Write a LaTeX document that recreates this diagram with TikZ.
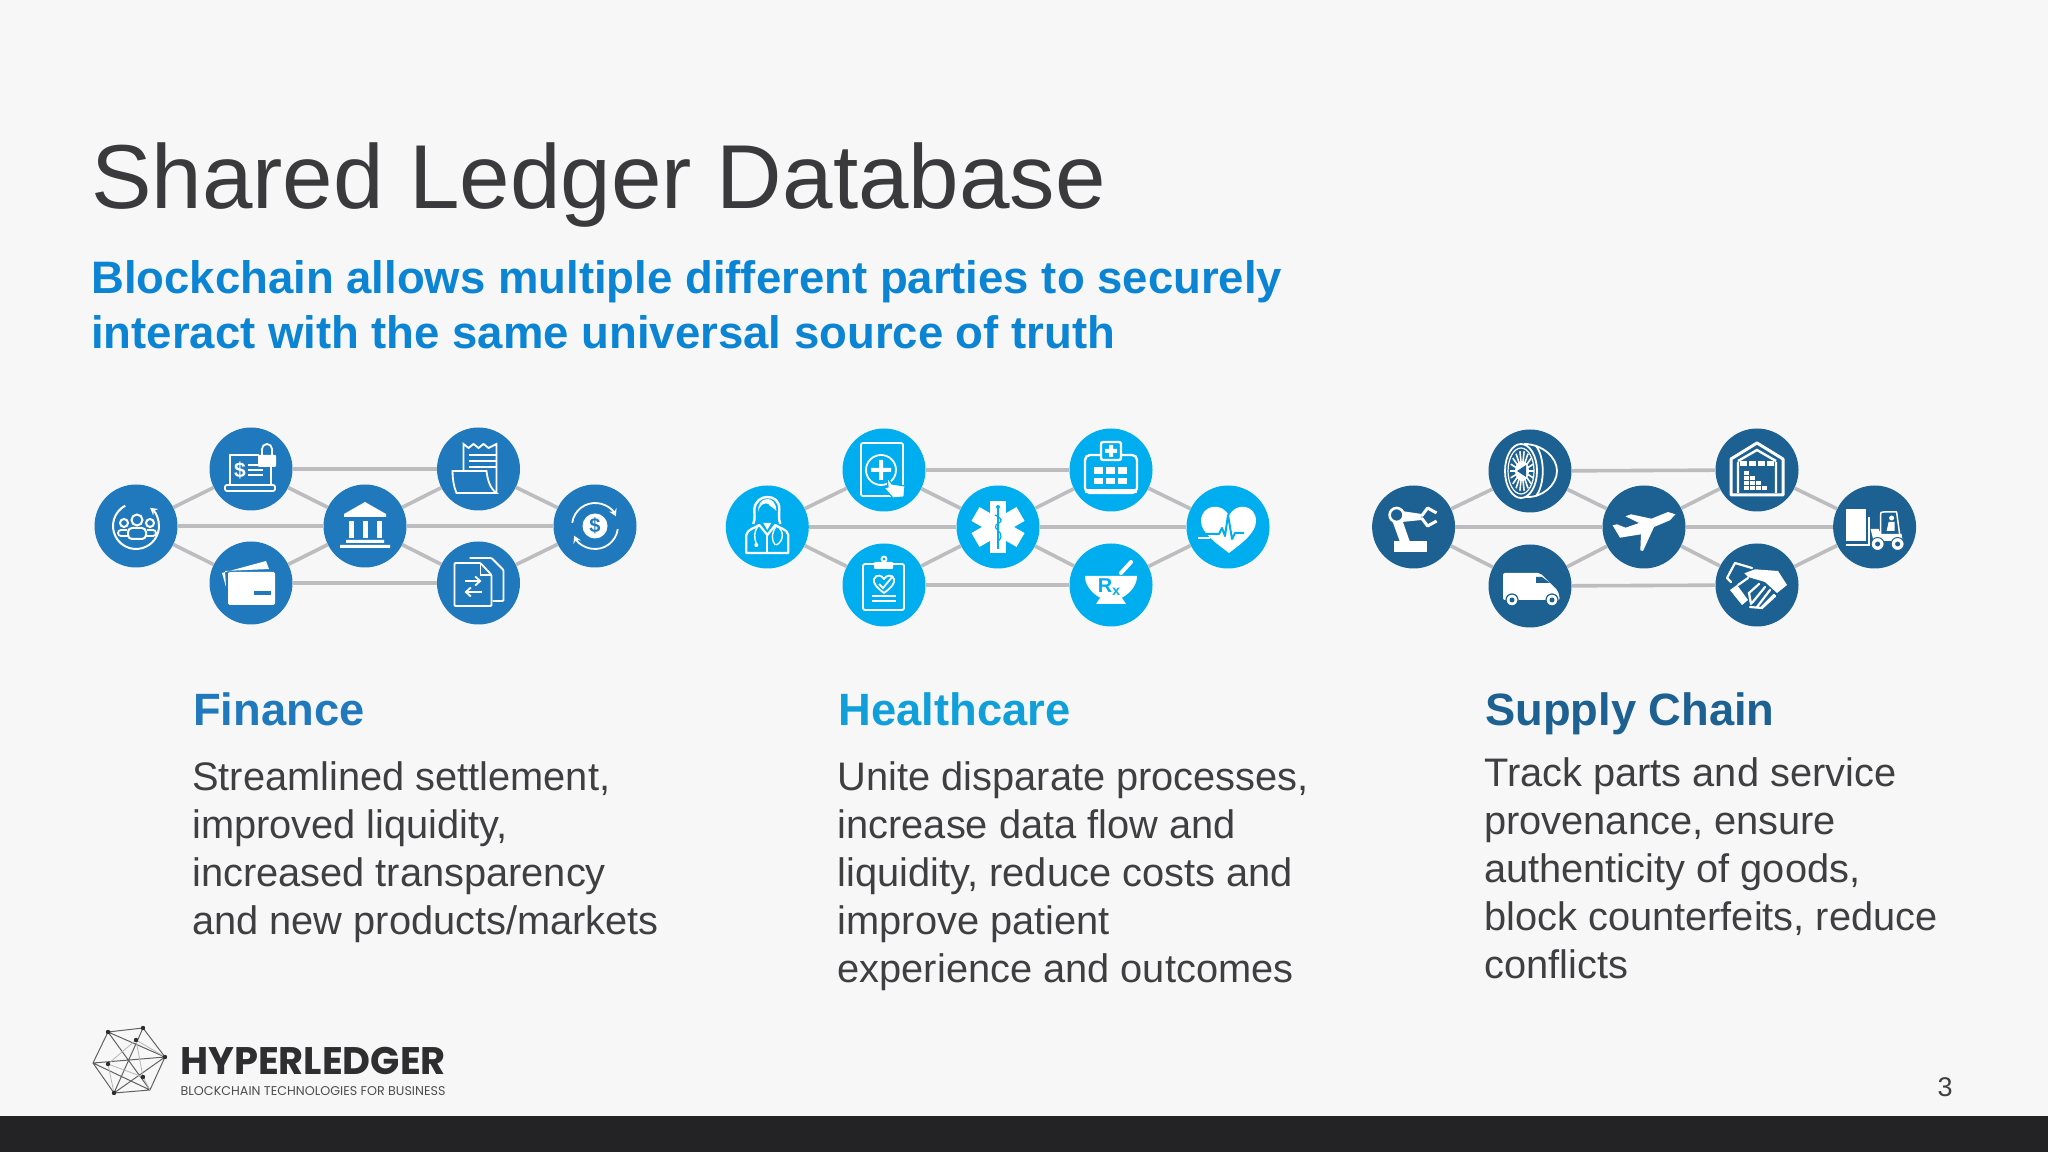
\documentclass[tikz,border=0pt]{standalone}
\usepackage{fontspec}
\setmainfont{Liberation Sans}
\newfontfamily\logofont{Poppins}
\usetikzlibrary{arrows.meta}
\definecolor{pagebg}{HTML}{F7F7F8}
\definecolor{barcol}{HTML}{232326}
\definecolor{titlecol}{HTML}{3A3A3C}
\definecolor{bodycol}{HTML}{3F3F42}
\definecolor{subcol}{HTML}{0B84D4}
\definecolor{fincol}{HTML}{2179BD}
\definecolor{healcol}{HTML}{00AEEF}
\definecolor{healhead}{HTML}{109FD9}
\definecolor{supcol}{HTML}{1C6191}
\definecolor{linkcol}{HTML}{BDBCBE}
\definecolor{logocol}{HTML}{2E2E30}
\newcommand{\fsz}[1]{\fontsize{#1}{#1}\selectfont}
\newcommand{\fszl}[2]{\fontsize{#1}{#2}\selectfont}
\tikzset{
  x=1pt,y=1pt,
  hub/.style={circle,inner sep=0pt,minimum size=83pt,fill=#1},
  link/.style={draw=linkcol,line width=3.6pt},
  wline/.style={draw=white,line width=1.8pt},
  hline/.style={draw=hubcol,line width=1.5pt},
  head/.style={anchor=base west,inner sep=0pt,font=\bfseries\fsz{45.3}},
  body/.style={anchor=north west,inner sep=0pt,align=left,text=bodycol,font=\fszl{39.8}{48}},
  peopleicon/.pic={
    \draw[wline,line width=2pt,-{Stealth[length=7pt,width=8pt]}] (118:23) arc (118:412:23);
    \draw[wline,line width=2pt] (1,6) circle (5.5) (14,3) circle (4) (-12,3) circle (4);
    \draw[wline,line width=2pt,rounded corners=4pt] (-8,-13) -- (-8,-2) -- (10,-2) -- (10,-13) -- cycle;
    \draw[wline,rounded corners=3pt] (-8,-10) -- (-18,-10) -- (-18,-4) -- (-9,-4) (10,-10) -- (20,-10) -- (20,-4) -- (11,-4);
  },
  laptopicon/.pic={
    \draw[wline] (8,14) -- (-21,14) -- (-21,-16) (20,3) -- (20,-16);
    \draw[wline,rounded corners=2pt] (-26,-16) rectangle (24,-22);
    \draw[wline] (-3,4) -- (12,4) (-3,-1) -- (12,-1) (-3,-6) -- (12,-6);
    \node[text=white,font=\bfseries\fsz{21}] (laptopmark) at (-11,-1) {\$};
    \fill[white,rounded corners=1pt] (7,14) rectangle (25,2);
    \draw[wline] (11,14) -- (11,20) arc (180:0:5) -- (21,14);
  },
  bankicon/.pic={
    \fill[white] (-21,12) -- (0,24) -- (21,12) -- (21,9) -- (-21,9) -- cycle;
    \foreach \colx in {-14,0,14} \fill[white] (\colx-2.5,5) rectangle (\colx+2.5,-12);
    \fill[white] (-19,-14) rectangle (19,-17) (-25,-19) rectangle (25,-22);
  },
  receipticon/.pic={
    \draw[wline] (-15,-2) -- (-15,25) -- (-10,21) -- (-5,25) -- (0,21) -- (5,25) -- (10,21) -- (18,25) -- (18,-23);
    \draw[wline] (-10,14) -- (17,14) (-10,8) -- (17,8) (-10,2) -- (17,2);
    \draw[wline,fill=hubcol] (-26,-2) -- (8,-2) .. controls (9,-10) and (11,-19) .. (18,-24) -- (-22,-24) .. controls (-25,-17) and (-26,-9) .. (-26,-2) -- cycle;
  },
  cycleicon/.pic={
    \draw[wline,-{Stealth[length=7pt,width=8pt]}] (172:23) arc (172:25:23);
    \draw[wline,-{Stealth[length=7pt,width=8pt]}] (352:23) arc (352:205:23);
    \fill[white] (0,0) circle (12.5);
    \node[text=hubcol,font=\bfseries\fsz{20}] (cyclemark) at (0,0) {\$};
  },
  cardicon/.pic={
    \fill[white] (-29,10) -- (15,22) -- (18,14) -- (-26,12) -- (-25,-4) -- cycle;
    \fill[white,rounded corners=1.5pt] (-23,11) rectangle (24,-22);
    \fill[hubcol] (3,-8) rectangle (20,-12);
  },
  docsicon/.pic={
    \draw[wline,rounded corners=1pt] (-9,25) -- (13,25) -- (25,13) -- (25,-18) -- (14,-18);
    \draw[wline,fill=hubcol,rounded corners=1pt] (-24,20) -- (2,20) -- (13,8) -- (13,-23) -- (-24,-23) -- cycle;
    \draw[wline] (2,20) -- (2,8) -- (13,8);
    \draw[wline,-{Straight Barb[length=5pt,width=9pt]}] (-14,2) -- (3,2);
    \draw[wline,-{Straight Barb[length=5pt,width=9pt]}] (3,-9) -- (-14,-9);
  },
  doctoricon/.pic={
    \draw[wline,line width=2.4pt,fill=hubcol] (-14,3) .. controls (-12,8) and (-13,14) .. (-13,18) .. controls (-12,26) and (-6,30) .. (0,30) .. controls (7,30) and (12,26) .. (12,18) .. controls (12,14) and (11,8) .. (13,3);
    \fill[white] (-9,15) .. controls (-8,22) and (-3,25) .. (1,23) .. controls (3,20) and (7,19) .. (9,16) .. controls (9,24) and (5,28) .. (0,28) .. controls (-6,28) and (-10,22) .. (-9,15) -- cycle;
    \draw[wline,line width=2.2pt,fill=hubcol,line join=round] (-21,-26) -- (-21,-8) .. controls (-20,-2) and (-12,-1) .. (-8,2) -- (0,-8) -- (8,2) .. controls (12,-1) and (20,-2) .. (21,-8) -- (21,-26) -- cycle;
    \draw[wline,line width=2pt] (0,-8) -- (0,-26);
    \fill[white] (-4,4) -- (4,4) -- (0,-3) -- cycle;
    \draw[wline,line width=1.4pt] (-9,1) .. controls (-14,-5) and (-13,-11) .. (-11,-17) (9,1) .. controls (18,-3) and (16,-15) .. (9,-18) (9,1) .. controls (4,-6) and (4,-14) .. (8,-18);
    \fill[white] (-11,-18) circle (2);
  },
  tableticon/.pic={
    \draw[wline,rounded corners=2pt] (-23,27) rectangle (19,-26);
    \draw[wline] (-3,0) circle (15);
    \fill[white] (-5,10) rectangle (-1,-10) (-13,2) rectangle (7,-2);
    \fill[white,draw=hubcol,line width=1.2pt] (3,-7) -- (8,-14) -- (21,-16) -- (20,-27) -- (9,-28) -- (0,-18) -- (4,-17) -- cycle;
  },
  staricon/.pic={
    \foreach \ang in {0,60,120} \fill[white,rotate=\ang] (-8,-26) rectangle (8,26);
    \draw[hline,line width=1.2pt] (0,20) -- (0,-22);
    \draw[hline,line width=1.2pt] (-3,12) .. controls (5,8) and (5,6) .. (-2,2) .. controls (-5,-2) and (4,-4) .. (3,-10) .. controls (2,-14) and (-2,-14) .. (0,-18);
    \fill[hubcol] (0,20) circle (2);
  },
  hospitalicon/.pic={
    \draw[wline,line width=2.4pt,rounded corners=5pt] (-10,15) -- (-26,15) -- (-26,-23) -- (26,-23) -- (26,15) -- (10,15);
    \draw[wline,line width=2.4pt,fill=hubcol,rounded corners=2pt] (-10,28) rectangle (10,10);
    \fill[white] (-2,25) rectangle (2,13) (-6,21) rectangle (6,17);
    \foreach \winx in {-17,-5,7} {
      \fill[white] (\winx,3) rectangle (\winx+9,-4);
      \fill[white] (\winx,-8) rectangle (\winx+9,-14);
    }
    \fill[white] (-26,-19) rectangle (26,-23);
  },
  hearticon/.pic={
    \fill[white] (1,-26) .. controls (-12,-16) and (-27,-6) .. (-27,6) .. controls (-27,22) and (-6,26) .. (1,11) .. controls (8,26) and (28,22) .. (28,6) .. controls (28,-6) and (14,-16) .. (1,-26) -- cycle;
    \draw[wline,line width=2.4pt] (-30,-11) -- (-18,-11);
    \draw[hline,line width=2pt,line join=round] (-27,-7) -- (-9,-7) -- (-6,-1) -- (-3,-9) -- (0,12) -- (4,-12) -- (7,-6) -- (16,-6);
  },
  clipboardicon/.pic={
    \draw[wline,rounded corners=2pt] (-21,21) rectangle (20,-25);
    \fill[white,rounded corners=1pt] (-10,23) rectangle (9,16);
    \draw[wline] (0,26) circle (2.5);
    \draw[wline] (0,-8) .. controls (-8,-2) and (-11,2) .. (-10,6) .. controls (-8,11) and (-2,10) .. (0,6) .. controls (2,10) and (8,11) .. (10,6) .. controls (11,2) and (8,-2) .. (0,-8);
    \draw[wline] (-5,1) -- (-1,-3) -- (9,9);
    \draw[wline] (-12,-11) -- (12,-11) (-12,-16) -- (12,-16);
  },
  mortaricon/.pic={
    \draw[white,line width=4pt,line cap=round] (10,12) -- (20,23);
    \fill[white] (-26,9) -- (26,9) .. controls (26,-3) and (15,-11) .. (10,-13) -- (-10,-13) .. controls (-15,-11) and (-26,-3) .. (-26,9) -- cycle;
    \fill[white] (-11,-13) -- (11,-13) -- (15,-19) -- (-15,-19) -- cycle;
    \node[text=hubcol,font=\bfseries\fsz{20}] (mortarmark) at (-2,-2) {R\raisebox{-3pt}{\fsz{14}x}};
  },
  roboticon/.pic={
    \fill[white] (-20,-14) rectangle (13,-25);
    \fill[white] (-14,-14) -- (-4,-14) -- (-11,6) -- (-22,8) -- cycle;
    \fill[white] (-12,16) -- (8,13) -- (8,7) -- (-12,5) -- cycle;
    \draw[wline,line width=2.6pt,fill=hubcol] (-17,12) circle (7);
    \draw[wline,line width=3pt,line join=round] (8,11) -- (14,19) -- (23,14) (8,9) -- (14,1) -- (23,6);
  },
  wheelicon/.pic={
    \draw[wline] (-6,27) .. controls (12,27) and (27,14) .. (27,0) .. controls (27,-14) and (12,-27) .. (-4,-26);
    \draw[wline,fill=hubcol] (-9,0) ellipse (16 and 27);
    \draw[wline,line width=1.2pt] (-9,0) ellipse (13 and 23);
    \foreach \ang in {0,20,...,340} \draw[wline,line width=1.6pt] (-8,0) ++(\ang:5 and 8) -- ++(\ang:7 and 12);
    \fill[white] (-8,0) ellipse (7 and 10);
    \fill[hubcol] (-13,0) -- (-4,6) -- (-4,-6) -- cycle;
    \draw[wline] (6,25) .. controls (15,14) and (15,-14) .. (6,-25);
  },
  planeicon/.pic={
    \fill[white] (31.4,12.7) -- (25.9,6.7) -- (10,0) -- (-1,-24) -- (-3.7,-23.3) -- (-3,-7.3) -- (-24,-10.7) -- (-31.4,1.7) -- (-27,2.7) -- (-18.5,-0.7) -- (-4.8,4) -- (-18.5,10.7) -- (-13,12.7) -- (7.4,8.3) -- (24,15) -- cycle;
  },
  warehouseicon/.pic={
    \draw[wline,line width=3pt,line join=round] (-26,11) -- (-26,-25) -- (26,-25) -- (26,11) -- (0,27) -- (-26,11) -- cycle;
    \draw[wline,line width=2.4pt] (-19,8) -- (-19,-23) (19,8) -- (19,-23) (-19,9) -- (0,20) -- (19,9);
    \foreach \slatx in {-17,-8,1,10} \fill[white] (\slatx,9) rectangle (\slatx+7,4);
    \foreach \bx/\by in {-13/-20,-7/-20,-1/-20,5/-20,-13/-15,-7/-15,-1/-15,-13/-10,-7/-10,-13/-5} \fill[white] (\bx,\by) rectangle (\bx+5,\by+3.5);
  },
  vanicon/.pic={
    \fill[white,rounded corners=2pt] (-27,13) -- (10,13) -- (28,-5) -- (30,-14) -- (-27,-14) -- cycle;
    \fill[hubcol] (6,9) -- (12,9) -- (20,3) -- (6,3) -- cycle;
    \foreach \whx in {-18,22} {
      \fill[white,draw=hubcol,line width=1.2pt] (\whx,-14) circle (6);
      \fill[hubcol] (\whx,-14) circle (2.5);
    }
  },
  handsicon/.pic={
    \fill[white] (-12.7,11.7) -- (-2,15.7) -- (21,14) -- (30,0) -- (20,-8) -- (8,3) -- (-9,8) -- cycle;
    \draw[wline,line width=2.2pt,line cap=round,line join=round] (-5,17) -- (-22,22) -- (-30,7) -- (-26,3) (-9,7) -- (-19,0);
    \fill[white] (-27,-5) -- (-20,0) -- (-9,-15) -- (-15,-20) -- cycle;
    \draw[wline,line width=2.2pt,line cap=round] (8,-2) -- (-5,-18) (13,-5) -- (0,-22) (17,-10) -- (5,-22) (-7,-22) -- (5,-23) -- (18,-11) (2,1) -- (-8,-8) -- (-6,-19);
  },
  forklifticon/.pic={
    \fill[white] (-29,18) rectangle (-9,-14);
    \draw[wline,line width=2.2pt] (-29,-18) -- (-6,-18) -- (-6,10);
    \draw[wline,line width=1.5pt,line join=round] (6,-7) -- (6,12) .. controls (6,15) .. (9,15) -- (22,15) -- (25,-7);
    \fill[white] (-4,-2) -- (4,-2) -- (6,-7) -- (27,-7) -- (28,-14) -- (-1,-14) -- cycle;
    \fill[white] (17,9) circle (2.5) (12,-4) -- (14,5) -- (20,5) -- (20,-4) -- cycle;
    \foreach \whx in {3,23} {
      \fill[white,draw=hubcol,line width=1pt] (\whx,-17) circle (6.5);
      \fill[hubcol] (\whx,-17) circle (2.5);
    }
  }
}
\begin{document}
\begin{tikzpicture}
\useasboundingbox (0,0) rectangle (2048,1152);
\fill[pagebg] (0,0) rectangle (2048,1152);
\fill[barcol] (0,0) rectangle (2048,36.3);
\node[anchor=base west,inner sep=0pt,text=titlecol,font=\fsz{90.8}] (title) at (91,943) {Shared Ledger Database};
\node[anchor=north west,inner sep=0pt,align=left,text=subcol,font=\bfseries\fszl{45.5}{55}] (subtitle) at (91,892) {Blockchain allows multiple different parties to securely\\interact with the same universal source of truth};

\node[hub=fincol] (finL) at (136,626) {};
\node[hub=fincol] (finA) at (251,683) {};
\node[hub=fincol] (finB) at (251,569) {};
\node[hub=fincol] (finC) at (365,626) {};
\node[hub=fincol] (finD) at (478.5,683) {};
\node[hub=fincol] (finE) at (478.5,569) {};
\node[hub=fincol] (finR) at (595,626) {};

\node[hub=healcol] (healL) at (767.3,625) {};
\node[hub=healcol] (healA) at (884,682) {};
\node[hub=healcol] (healB) at (884,567) {};
\node[hub=healcol] (healC) at (998,625) {};
\node[hub=healcol] (healD) at (1111,682) {};
\node[hub=healcol] (healE) at (1111,567) {};
\node[hub=healcol] (healR) at (1228,625) {};

\node[hub=supcol] (supL) at (1413.6,625) {};
\node[hub=supcol] (supA) at (1530,681) {};
\node[hub=supcol] (supB) at (1530,566) {};
\node[hub=supcol] (supC) at (1644,625) {};
\node[hub=supcol] (supD) at (1757,682) {};
\node[hub=supcol] (supE) at (1757,567) {};
\node[hub=supcol] (supR) at (1874.6,625) {};

\foreach \net in {fin,heal,sup}
  \foreach \a/\b in {L/A,L/B,L/C,A/C,B/C,A/D,B/E,C/D,C/E,C/R,D/R,E/R}
    \draw[link] (\net\a) -- (\net\b);

\colorlet{hubcol}{fincol}
\pic at (finL) {peopleicon};
\pic at (finA) {laptopicon};
\pic at (finB) {cardicon};
\pic at (finC) {bankicon};
\pic at (finD) {receipticon};
\pic at (finE) {docsicon};
\pic at (finR) {cycleicon};
\colorlet{hubcol}{healcol}
\pic at (healL) {doctoricon};
\pic at (healA) {tableticon};
\pic at (healB) {clipboardicon};
\pic at (healC) {staricon};
\pic at (healD) {hospitalicon};
\pic at (healE) {mortaricon};
\pic at (healR) {hearticon};
\colorlet{hubcol}{supcol}
\pic at (supL) {roboticon};
\pic at (supA) {wheelicon};
\pic at (supB) {vanicon};
\pic at (supC) {planeicon};
\pic at (supD) {warehouseicon};
\pic at (supE) {handsicon};
\pic at (supR) {forklifticon};

\node[head,text=fincol] (finhead) at (193,426) {Finance};
\node[head,text=healhead] (healhead) at (838.5,426) {Healthcare};
\node[head,text=supcol] (suphead) at (1485,426) {Supply Chain};
\node[body] (finbody) at (192,391) {Streamlined settlement,\\improved liquidity,\\increased transparency\\and new products/markets};
\node[body] (healbody) at (837.5,391) {Unite disparate processes,\\increase data flow and\\liquidity, reduce costs and\\improve patient\\experience and outcomes};
\node[body] (supbody) at (1484,395) {Track parts and service\\provenance, ensure\\authenticity of goods,\\block counterfeits, reduce\\conflicts};

\draw[logocol!75,line width=1pt]
  (108,1152-1032) -- (143,1152-1028) -- (165,1152-1057) -- (150,1152-1090) -- (114,1152-1093) -- (93,1152-1063) -- cycle
  (108,1152-1032) -- (150,1152-1090) (143,1152-1028) -- (114,1152-1093)
  (93,1152-1063) -- (165,1152-1057) (108,1152-1032) -- (165,1152-1057)
  (93,1152-1063) -- (150,1152-1090) (114,1152-1093) -- (165,1152-1057);
\draw[logocol!35,line width=.8pt]
  (136,1152-1040) -- (108,1152-1064) -- (143,1152-1077) -- cycle
  (136,1152-1040) -- (165,1152-1057) (108,1152-1064) -- (114,1152-1093) (143,1152-1077) -- (150,1152-1090);
\foreach \dotx/\doty in {108/1032,143/1028,165/1057,114/1093,136/1040,108/1064,143/1077}
  \fill[logocol] (\dotx,1152-\doty) circle (2.2);
\node[anchor=base west,inner sep=0pt,text=logocol,font=\logofont\bfseries\fsz{38.4}] (logoname) at (180,1152-1074) {HYPERLEDGER};
\node[anchor=base west,inner sep=0pt,text=logocol!85,font=\logofont\fsz{12.7}] (logotag) at (180.5,1152-1095) {BLOCKCHAIN TECHNOLOGIES FOR BUSINESS};
\node[anchor=base,inner sep=0pt,text=bodycol,font=\fsz{27}] (pagenum) at (1945,1152-1096) {3};
\end{tikzpicture}
\end{document}
